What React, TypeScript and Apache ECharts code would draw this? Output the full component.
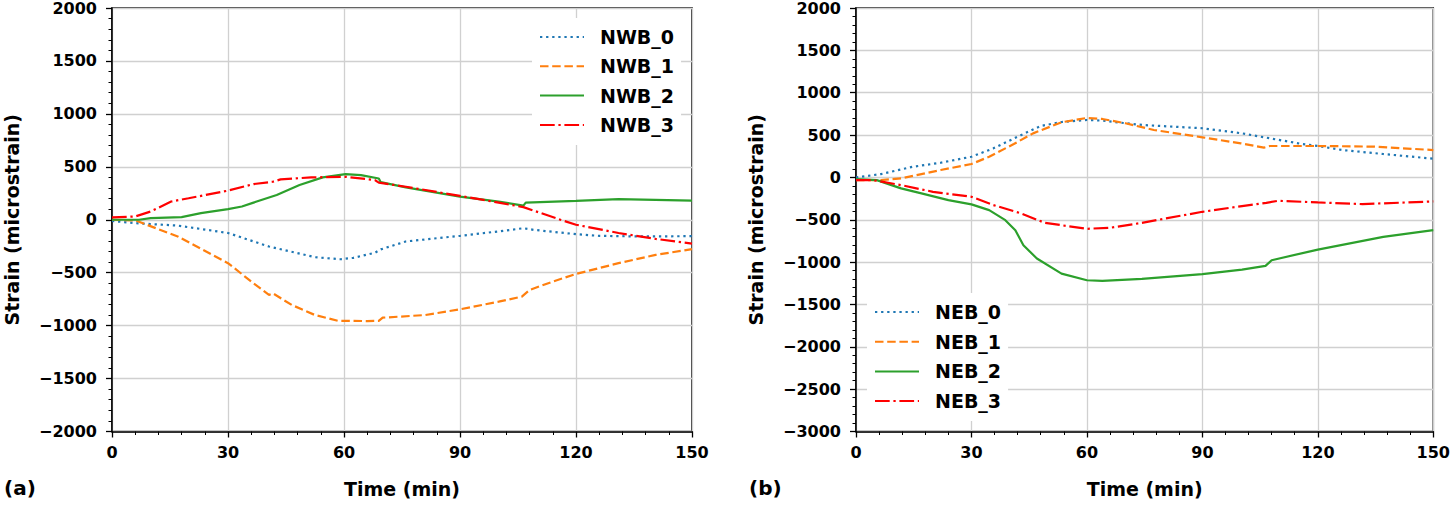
import React, { useEffect, useRef } from "react";
import * as echarts from "echarts";

// ---------- Data ----------
const xTicks = [0, 30, 60, 90, 120, 150];

const nwb0: number[][] = [
  [0, -12], [7, -35], [17, -55], [30, -125], [40.6, -253], [52.5, -354], [59, -373],
  [62.4, -360], [68, -312], [69.5, -280], [76, -205], [90, -152], [100, -110],
  [106.4, -80], [109, -95], [120, -136], [126, -152], [136, -158], [150, -155],
];
const nwb1: number[][] = [
  [0, 0], [6, -6], [17, -158], [30, -410], [36.6, -600], [40.6, -710], [41.6, -695],
  [46.5, -805], [52.5, -900], [58.4, -954], [66, -957], [69, -955], [70, -925],
  [81, -900], [90, -846], [100, -774], [106, -726], [108, -663], [114, -584],
  [120, -512], [131, -410], [140.6, -332], [150, -278],
];
const nwb2: number[][] = [
  [0, 0], [7, 0], [10, 16], [18, 25], [23, 62], [30, 100], [33.6, 125], [36.6, 162],
  [42.6, 234], [48.5, 328], [54.5, 400], [60.4, 431], [64.4, 422], [69, 390],
  [69.5, 355], [76, 306], [90, 219], [100, 172], [106.4, 134], [107, 162],
  [120, 178], [131, 194], [150, 181],
];
const nwb3: number[][] = [
  [0, 22], [6, 31], [10, 78], [15.3, 172], [19.8, 203], [30, 275], [36.6, 337],
  [41.6, 359], [43.6, 381], [51.5, 400], [60.4, 406], [68, 375], [69, 350],
  [76, 312], [90, 225], [100, 162], [106.4, 119], [116, 0], [120, -47],
  [131, -125], [140.6, -181], [150, -225],
];

const neb0: number[][] = [
  [0, 0], [6.5, 39], [14.8, 126], [22, 173], [30, 244], [35.7, 343], [42, 481],
  [48, 607], [53.4, 654], [60, 678], [64, 670], [74.3, 619], [90, 580],
  [100.3, 520], [107.6, 461], [116, 394], [120, 371], [126.4, 323], [137, 276],
  [150, 221],
];
const neb1: number[][] = [
  [0, -32], [6.5, -32], [11.7, -12], [17, 39], [22, 87], [30, 158], [34.6, 244],
  [41, 394], [46, 520], [53.4, 651], [60, 702], [64, 690], [70, 639], [77.4, 560],
  [90, 473], [100, 402], [106, 351], [107.6, 371], [120, 371], [134.8, 363],
  [150, 323],
];
const neb2: number[][] = [
  [0, -20], [5.4, -32], [11.7, -130], [17, -189], [24, -268], [30, -319],
  [34.6, -386], [38.8, -505], [41.4, -623], [43.5, -800], [47, -958],
  [53.4, -1136], [60, -1214], [64, -1222], [74.3, -1199], [90, -1143],
  [100.3, -1088], [106.4, -1045], [108, -978], [120, -852], [137, -702],
  [150, -623],
];
const neb3: number[][] = [
  [0, -32], [4.4, -32], [11.7, -91], [20, -170], [30, -229], [35.7, -327],
  [43, -426], [49, -536], [60, -607], [66, -595], [74.3, -536], [90, -406],
  [100.3, -339], [106.6, -300], [109.7, -276], [120, -296], [131.6, -315],
  [150, -284],
];

const leftNames = ["NWB_0", "NWB_1", "NWB_2", "NWB_3"];
const rightNames = ["NEB_0", "NEB_1", "NEB_2", "NEB_3"];
const leftData = [nwb0, nwb1, nwb2, nwb3];
const rightData = [neb0, neb1, neb2, neb3];

const colors = ["#1f77b4", "#ff7f0e", "#2ca02c", "#ff0000"];
const dashes: (number[] | "solid")[] = [
  [2.3, 3.8],
  [8.5, 3.7],
  "solid",
  [14.7, 3.7, 2.3, 3.7],
];

const FONT = "DejaVu Sans";

const fmt = (v: number) => (v < 0 ? "\u2212" + Math.abs(v) : String(v));

function xAxis(gridIndex: number) {
  return {
    type: "value",
    gridIndex,
    min: 0,
    max: 150,
    interval: 30,
    name: "Time (min)",
    nameLocation: "middle",
    nameGap: 48,
    nameTextStyle: { fontFamily: FONT, fontWeight: "bold", fontSize: 19, color: "#000" },
    axisLine: { show: true, onZero: false, lineStyle: { color: "#000", width: 1.5 } },
    axisTick: { show: true, length: 6, lineStyle: { color: "#000", width: 1.3 } },
    minorTick: { show: true, splitNumber: 5, length: 3.5, lineStyle: { color: "#000", width: 1 } },
    splitLine: { show: true, lineStyle: { color: "#d0d0d0", width: 1.3 } },
    axisLabel: {
      fontFamily: FONT, fontWeight: "bold", fontSize: 16, color: "#000", margin: 13,
      customValues: xTicks,
      formatter: fmt,
    },
  };
}

function yAxis(gridIndex: number, min: number, max: number) {
  return {
    type: "value",
    gridIndex,
    min,
    max,
    interval: 500,
    name: "Strain (microstrain)",
    nameLocation: "middle",
    nameGap: 91,
    nameTextStyle: { fontFamily: FONT, fontWeight: "bold", fontSize: 19, color: "#000" },
    axisLine: { show: true, onZero: false, lineStyle: { color: "#000", width: 1.5 } },
    axisTick: { show: true, length: 6, lineStyle: { color: "#000", width: 1.3 } },
    minorTick: { show: true, splitNumber: 5, length: 3.5, lineStyle: { color: "#000", width: 1 } },
    splitLine: { show: true, lineStyle: { color: "#d0d0d0", width: 1.3 } },
    axisLabel: {
      fontFamily: FONT, fontWeight: "bold", fontSize: 16, color: "#000", margin: 15,
      formatter: fmt,
    },
  };
}

function legend(names: string[], left: number, top: number, gap: number) {
  return {
    data: names,
    orient: "vertical",
    left,
    top,
    itemWidth: 44,
    itemHeight: 14,
    itemGap: gap,
    padding: [9, 7, 10, 7],
    backgroundColor: "#ffffff",
    selectedMode: false,
    itemStyle: { opacity: 0 },
    textStyle: {
      fontFamily: FONT, fontWeight: "bold", fontSize: 19, lineHeight: 20, color: "#000",
      padding: [0, 0, 0, 11],
    },
  };
}

function makeSeries(names: string[], data: number[][][], idx: number) {
  return names.map((name, i) => ({
    type: "line",
    name,
    xAxisIndex: idx,
    yAxisIndex: idx,
    data: data[i],
    showSymbol: false,
    symbol: "none",
    color: colors[i],
    lineStyle: { color: colors[i], width: 2.2, type: dashes[i] },
    z: 3,
  }));
}

export default function App() {
  const ref = useRef<HTMLDivElement>(null);
  useEffect(() => {
    if (!ref.current) return;
    const chart = echarts.init(ref.current, null, { renderer: "svg" });
    chart.setOption({
      animation: false,
      backgroundColor: "#ffffff",
      grid: [
        { left: 112, top: 7.5, width: 580, height: 424, show: true, borderColor: "#000", borderWidth: 1.5, backgroundColor: "transparent" },
        { left: 856, top: 7.5, width: 580.5, height: 424, show: true, borderColor: "#000", borderWidth: 1.5, backgroundColor: "transparent" },
      ],
      xAxis: [xAxis(0), xAxis(1)],
      yAxis: [yAxis(0, -2000, 2000), yAxis(1, -3000, 2000)],
      legend: [
        legend(leftNames, 532, 18, 9.3),
        legend(rightNames, 867, 293, 9.7),
      ],
      graphic: [
        { type: "text", x: 4, y: 488, style: { text: "(a)", font: `bold 20px "${FONT}"`, fill: "#000", verticalAlign: "middle" } },
        { type: "text", x: 749, y: 488, style: { text: "(b)", font: `bold 20px "${FONT}"`, fill: "#000", verticalAlign: "middle" } },
      ],
      series: [...makeSeries(leftNames, leftData, 0), ...makeSeries(rightNames, rightData, 1)],
    });
    return () => chart.dispose();
  }, []);
  return (
    <div
      ref={ref}
      style={{ position: "absolute", left: 0, top: 0, width: 1453, height: 505, background: "#fff" }}
    />
  );
}
